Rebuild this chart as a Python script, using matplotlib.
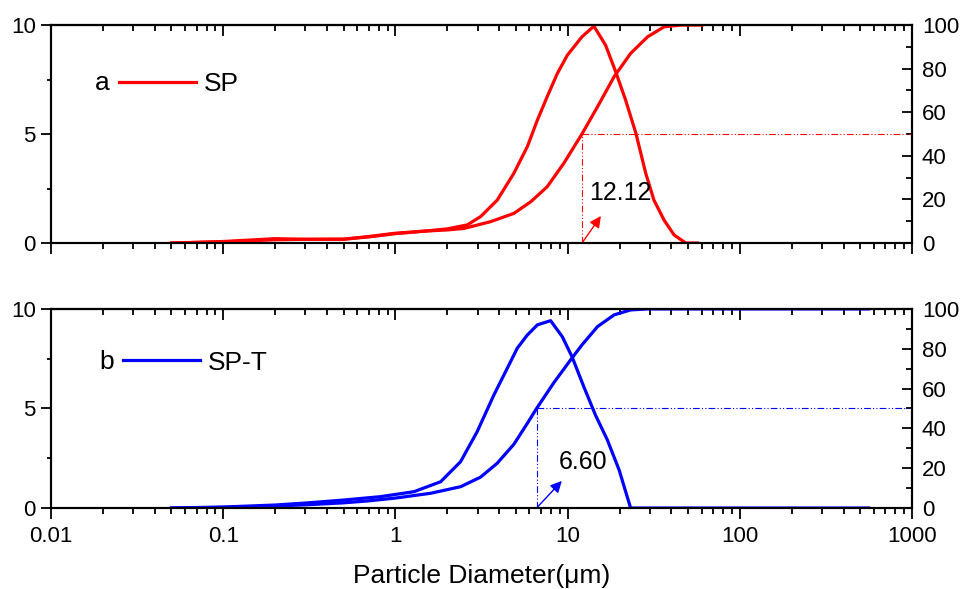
import matplotlib.pyplot as plt
import numpy as np
from matplotlib.ticker import MultipleLocator, LogLocator, FixedLocator, FixedFormatter, NullFormatter

plt.rcParams['font.family'] = ['Liberation Sans', 'DejaVu Sans']

# sample SP (panel a): frequency (%, left axis) and cumulative (%, right axis)
sp_size = [0.05, 0.1, 0.2, 0.3, 0.5, 0.7, 1.0, 1.5, 2.0, 2.61, 3.12, 3.9, 4.87, 5.83, 6.67, 7.6,
           8.71, 9.96, 12.1, 14.2, 16.6, 19.0, 21.7, 24.9, 28.4, 31.7, 36.3, 41.5, 48.5, 56.8]
sp_freq = [0.0, 0.07, 0.2, 0.17, 0.17, 0.3, 0.45, 0.55, 0.65, 0.83, 1.21, 1.97, 3.2, 4.42, 5.64,
           6.71, 7.78, 8.62, 9.46, 9.95, 9.08, 7.86, 6.56, 5.04, 3.2, 1.97, 1.05, 0.37, 0.0, 0.0]
sp_cum_size = [0.05, 0.1, 0.2, 0.3, 0.5, 0.7, 1.0, 1.5, 2.0, 2.5, 3.57, 4.87, 6.1, 7.6, 9.5,
               12.1, 14.9, 18.6, 23.2, 29.1, 36.3, 45.4, 60.0]
sp_cum = [0.0, 0.5, 1.5, 1.7, 1.8, 2.8, 4.3, 5.5, 6.0, 6.7, 9.8, 13.6, 18.9, 25.8, 36.6,
          50.0, 62.5, 76.3, 87.0, 94.6, 99.2, 100.0, 100.0]
sp_d50 = 12.12

# sample SP-T (panel b)
spt_size = [0.05, 0.1, 0.2, 0.3, 0.5, 0.818, 1.28, 1.83, 2.39, 2.98, 3.73, 4.46, 5.1, 5.83,
            6.67, 7.96, 9.3, 10.6, 12.4, 14.5, 17.0, 19.9, 23.2, 560.0]
spt_freq = [0.0, 0.05, 0.15, 0.25, 0.4, 0.57, 0.82, 1.32, 2.33, 3.83, 5.68, 7.02, 8.03, 8.69,
            9.2, 9.41, 8.61, 7.6, 6.1, 4.67, 3.42, 1.91, 0.0, 0.0]
spt_cum_size = [0.05, 0.1, 0.2, 0.3, 0.5, 0.7, 1.0, 1.6, 2.39, 3.12, 3.9, 4.87, 5.83, 6.6,
                8.32, 10.4, 12.1, 14.9, 18.6, 23.2, 29.1, 560.0]
spt_cum = [0.0, 0.3, 1.0, 1.6, 2.6, 3.6, 5.0, 7.4, 10.7, 15.5, 22.5, 32.0, 42.5, 50.0,
           63.0, 74.4, 81.9, 91.1, 97.0, 99.5, 100.0, 100.0]
spt_d50 = 6.60

x_ticks = [0.01, 0.1, 1, 10, 100, 1000]
x_ticklabels = ['0.01', '0.1', '1', '10', '100', '1000']


def style_axes(ax, ax2, show_xlabels):
    ax.set_xscale('log')
    ax.set_xlim(0.01, 1000)
    ax.set_ylim(0, 10)
    ax2.set_ylim(0, 100)
    ax.xaxis.set_major_locator(FixedLocator(x_ticks))
    ax.xaxis.set_minor_locator(LogLocator(base=10, subs=np.arange(2, 10), numticks=20))
    ax.xaxis.set_minor_formatter(NullFormatter())
    if show_xlabels:
        ax.xaxis.set_major_formatter(FixedFormatter(x_ticklabels))
    else:
        ax.xaxis.set_major_formatter(NullFormatter())
    ax.yaxis.set_major_locator(MultipleLocator(5))
    ax.yaxis.set_minor_locator(MultipleLocator(2.5))
    ax2.yaxis.set_major_locator(MultipleLocator(20))
    ax2.yaxis.set_minor_locator(MultipleLocator(10))

    ax.tick_params(axis='x', which='major', direction='out', length=8, width=1.3, pad=5,
                   labelsize=16, top=False)
    ax.tick_params(axis='x', which='minor', direction='out', length=4.5, width=1.3, top=False)
    ax.tick_params(axis='y', which='major', direction='out', length=7, width=1.3, pad=4,
                   labelsize=16, right=False)
    ax.tick_params(axis='y', which='minor', direction='out', length=3, width=1.3, right=False)
    ax2.tick_params(axis='y', which='major', direction='in', length=7, width=1.3, pad=7,
                    labelsize=16)
    ax2.tick_params(axis='y', which='minor', direction='in', length=4.5, width=1.3)

    # mirrored ticks on the top spine point inward
    top = ax.secondary_xaxis('top')
    top.xaxis.set_major_locator(FixedLocator(x_ticks))
    top.xaxis.set_minor_locator(LogLocator(base=10, subs=np.arange(2, 10), numticks=20))
    top.xaxis.set_major_formatter(NullFormatter())
    top.xaxis.set_minor_formatter(NullFormatter())
    top.tick_params(axis='x', which='major', direction='in', length=8, width=1.3)
    top.tick_params(axis='x', which='minor', direction='in', length=4.5, width=1.3)
    top.spines['top'].set_linewidth(1.5)

    for a in (ax, ax2):
        for s in a.spines.values():
            s.set_linewidth(1.5)


def draw_panel(ax, size, freq, cum_size, cum, d50, color, letter, name, text_pos, arrow_tip,
               legend_x):
    ax2 = ax.twinx()
    line, = ax.plot(size, freq, color=color, lw=2.3, solid_joinstyle='round')
    ax2.plot(cum_size, cum, color=color, lw=2.3, solid_joinstyle='round')

    # d50 guide lines
    ax2.plot([d50, d50], [0, 50], color=color, lw=0.8, dashes=[6, 2, 1, 2, 1, 2])
    ax2.plot([d50, 1000], [50, 50], color=color, lw=0.8, dashes=[6, 2, 1, 2, 1, 2])
    ax.annotate('', xy=arrow_tip, xytext=(d50, 0),
                arrowprops=dict(arrowstyle='-|>', color=color, lw=1.0, mutation_scale=17,
                                shrinkA=0, shrinkB=0))
    ax.text(text_pos[0], text_pos[1], '%.2f' % d50, fontsize=18, va='center', ha='left')

    ax.text(legend_x - 0.011, 0.735, letter, transform=ax.transAxes, fontsize=19,
            va='center', ha='right')
    ax.legend([line], [name], loc='center left', bbox_to_anchor=(legend_x, 0.73), frameon=False,
              handlelength=2.9, handletextpad=0.3, fontsize=19, borderaxespad=0, borderpad=0)
    return ax2


def main():
    fig = plt.figure(figsize=(9.61, 5.89), dpi=100)
    ax_a = fig.add_axes([0.0531, 0.5874, 0.896, 0.370])
    ax_b = fig.add_axes([0.0531, 0.1375, 0.896, 0.338])

    ax2_a = draw_panel(ax_a, sp_size, sp_freq, sp_cum_size, sp_cum, sp_d50, '#ff0000',
                       'a', 'SP', (13.4, 2.3), (15.6, 1.24), 0.079)
    ax2_b = draw_panel(ax_b, spt_size, spt_freq, spt_cum_size, spt_cum, spt_d50, '#0000ff',
                       'b', 'SP-T', (8.9, 2.33), (9.25, 1.36), 0.0836)

    style_axes(ax_a, ax2_a, False)
    style_axes(ax_b, ax2_b, True)
    ax_b.set_xlabel('Particle Diameter(\u03bcm)', fontsize=19, labelpad=12)

    fig.savefig('out.png', dpi=100)


if __name__ == '__main__':
    main()
